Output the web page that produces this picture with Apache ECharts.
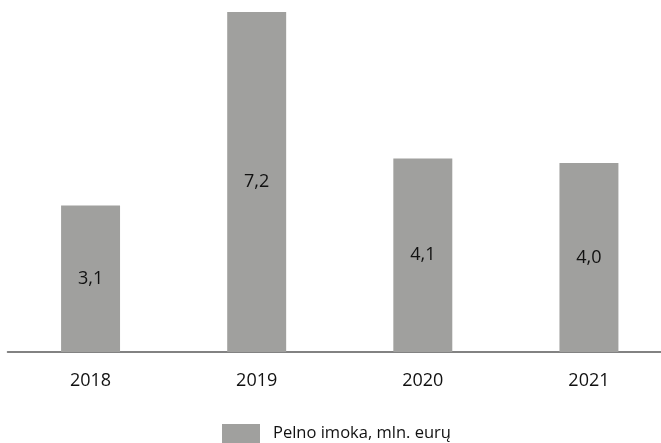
<!DOCTYPE html>
<html><head><meta charset="utf-8">
<script src="https://cdn.jsdelivr.net/npm/echarts@6/dist/echarts.min.js"></script>
<style>html,body{margin:0;padding:0;background:#fff;overflow:hidden}#c{width:672px;height:443px}</style>
</head><body><div id="c"></div>
<script>
const categories = ['2018', '2019', '2020', '2021'];
const values = [3.1, 7.2, 4.1, 4.0];
const seriesName = 'Pelno imoka, mln. eurų';

const chart = echarts.init(document.getElementById('c'), null, {renderer: 'canvas'});
chart.setOption({
  animation: false,
  textStyle: {fontFamily: 'Open Sans'},
  grid: {left: 7.5, right: 0, top: 12, bottom: 91, containLabel: false},
  legend: {
    bottom: 0, left: 222, padding: 0,
    itemWidth: 38, itemHeight: 19, itemGap: 10,
    icon: 'rect',
    textStyle: {fontSize: 16.5, color: '#111', padding: [0, 0, 0, 8], fontFamily: 'Open Sans'},
    data: [seriesName]
  },
  xAxis: {
    type: 'category', data: categories,
    axisLine: {lineStyle: {color: '#595959', width: 1.5}},
    axisTick: {show: false},
    axisLabel: {fontSize: 18, color: '#111', margin: 20, fontFamily: 'Open Sans'}
  },
  yAxis: {type: 'value', min: 0, max: 7.2, show: false, splitLine: {show: false}},
  series: [{
    name: seriesName, type: 'bar', data: values,
    barWidth: '35.5%',
    itemStyle: {color: '#a0a09e'},
    label: {
      show: true, position: 'inside', fontSize: 18, color: '#111', fontFamily: 'Open Sans',
      formatter: p => p.value.toFixed(1).replace('.', ',')
    }
  }]
});
</script></body></html>
